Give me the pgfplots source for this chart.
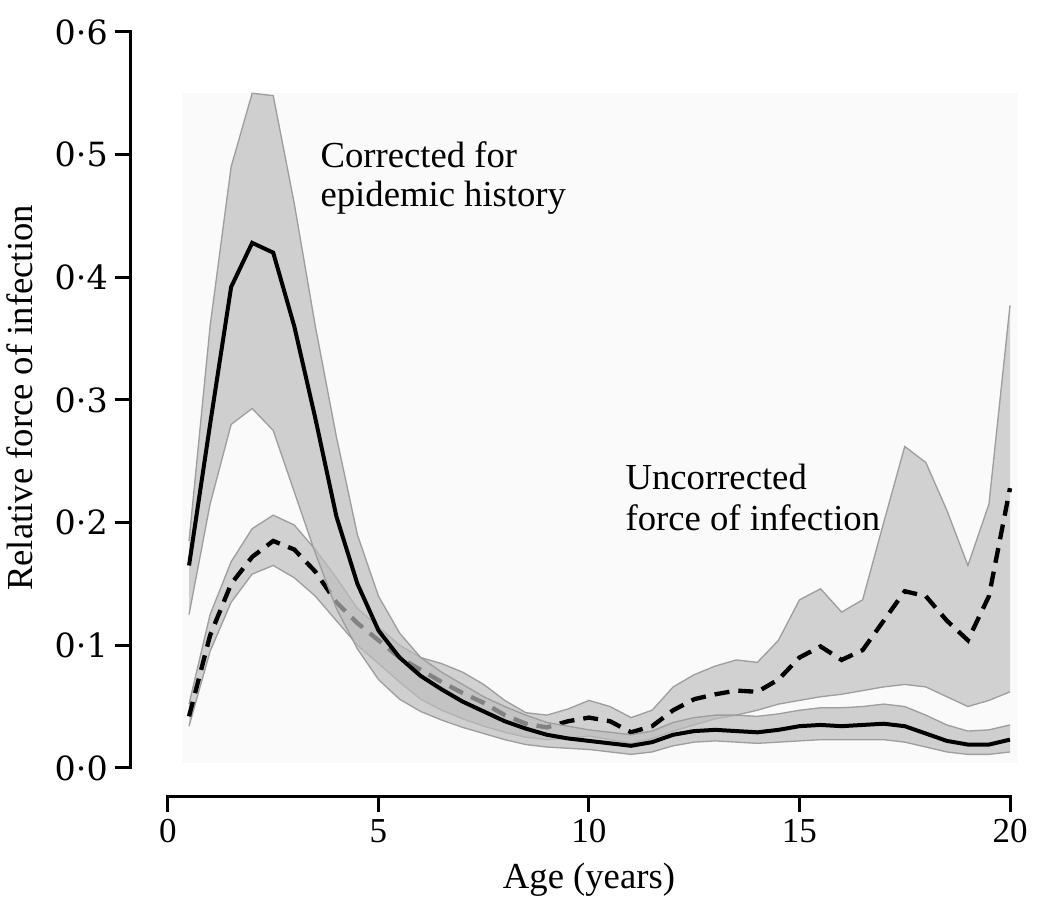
\documentclass[border=0pt]{standalone}
\usepackage{fontspec}
\setmainfont{Liberation Serif}
\newfontfamily\dejaserif{DejaVu Serif}
\usepackage{pgfplots}
\pgfplotsset{compat=1.18}
\usepgfplotslibrary{fillbetween}
\usepackage{pgfplotstable}
\pgfplotsset{/tikz/fill between/on layer=main}

\pgfplotstableread{
age m lo hi
0.5 0.165 0.125 0.185
1.0 0.280 0.215 0.360
1.5 0.392 0.280 0.490
2.0 0.428 0.293 0.550
2.5 0.420 0.275 0.548
3.0 0.360 0.225 0.460
3.5 0.285 0.175 0.360
4.0 0.205 0.130 0.270
4.5 0.150 0.097 0.190
5.0 0.112 0.072 0.140
5.5 0.090 0.056 0.110
6.0 0.075 0.046 0.090
6.5 0.064 0.039 0.078
7.0 0.054 0.033 0.068
7.5 0.046 0.028 0.058
8.0 0.038 0.023 0.050
8.5 0.032 0.019 0.043
9.0 0.027 0.017 0.037
9.5 0.024 0.016 0.034
10.0 0.022 0.015 0.031
10.5 0.020 0.013 0.029
11.0 0.018 0.011 0.027
11.5 0.021 0.013 0.030
12.0 0.027 0.018 0.037
12.5 0.030 0.021 0.041
13.0 0.031 0.022 0.043
13.5 0.030 0.021 0.043
14.0 0.029 0.020 0.042
14.5 0.031 0.021 0.044
15.0 0.034 0.022 0.047
15.5 0.035 0.023 0.049
16.0 0.034 0.023 0.049
16.5 0.035 0.023 0.050
17.0 0.036 0.023 0.052
17.5 0.034 0.021 0.050
18.0 0.028 0.017 0.043
18.5 0.022 0.013 0.035
19.0 0.019 0.011 0.030
19.5 0.019 0.011 0.031
20.0 0.023 0.013 0.035
}\corrected

\pgfplotstableread{
age m lo hi
0.5 0.042 0.034 0.052
1.0 0.108 0.095 0.125
1.5 0.150 0.135 0.168
2.0 0.172 0.158 0.195
2.5 0.185 0.165 0.206
3.0 0.178 0.155 0.198
3.5 0.160 0.140 0.178
4.0 0.135 0.120 0.155
4.5 0.118 0.100 0.130
5.0 0.104 0.085 0.115
5.5 0.090 0.070 0.100
6.0 0.080 0.056 0.090
6.5 0.070 0.047 0.085
7.0 0.061 0.040 0.078
7.5 0.053 0.034 0.068
8.0 0.043 0.029 0.055
8.5 0.036 0.025 0.045
9.0 0.033 0.023 0.043
9.5 0.038 0.024 0.048
10.0 0.041 0.026 0.055
10.5 0.038 0.023 0.050
11.0 0.029 0.020 0.041
11.5 0.034 0.024 0.047
12.0 0.047 0.030 0.066
12.5 0.056 0.035 0.076
13.0 0.060 0.040 0.083
13.5 0.063 0.043 0.088
14.0 0.062 0.047 0.086
14.5 0.072 0.052 0.104
15.0 0.090 0.055 0.137
15.5 0.099 0.058 0.146
16.0 0.088 0.060 0.127
16.5 0.096 0.063 0.137
17.0 0.120 0.066 0.200
17.5 0.144 0.068 0.262
18.0 0.140 0.066 0.249
18.5 0.120 0.058 0.210
19.0 0.104 0.050 0.165
19.5 0.140 0.055 0.215
20.0 0.228 0.062 0.377
}\uncorrected

\begin{document}
\begin{tikzpicture}
\begin{axis}[
  set layers,
  x=12.63pt, y=368pt,
  xmin=-0.9, xmax=20, ymin=-0.0236, ymax=0.6,
  clip=false,
  axis x line*=bottom, axis y line*=left,
  x axis line style={draw=none}, y axis line style={draw=none},
  tick align=outside,
  major tick length=4.5pt,
  every tick/.style={black, line width=0.9pt},
  xtick={0,5,10,15,20},
  xticklabels={0,5,10,15,20},
  ytick={0,0.1,0.2,0.3,0.4,0.5,0.6},
  yticklabels={0·0,0·1,0·2,0·3,0·4,0·5,0·6},
  minor tick num=0,
  xticklabel style={font=\fontsize{10.5}{12}\selectfont, inner sep=2pt},
  yticklabel style={font=\dejaserif\fontsize{10}{12}\selectfont, inner sep=2pt},
]
% faint panel background
\begin{pgfonlayer}{axis background}
\fill[black!2] (axis cs:0.33,0.004) rectangle (axis cs:20.2,0.55);
\end{pgfonlayer}

% uncorrected band
\addplot[name path=uhi, draw=none] table[x=age,y=hi]{\uncorrected};
\addplot[name path=ulo, draw=none] table[x=age,y=lo]{\uncorrected};
\addplot[fill=black!18, draw=none] fill between[of=uhi and ulo];
\addplot[draw=black!38, line width=0.4pt] table[x=age,y=hi]{\uncorrected};
\addplot[draw=black!38, line width=0.4pt] table[x=age,y=lo]{\uncorrected};
% uncorrected mean (dashed)
\addplot[black, line width=1.3pt, dash pattern=on 4.5pt off 2.7pt] table[x=age,y=m]{\uncorrected};

% corrected band
\addplot[name path=chi, draw=none] table[x=age,y=hi]{\corrected};
\addplot[name path=clo, draw=none] table[x=age,y=lo]{\corrected};
\addplot[fill=black!26, fill opacity=0.69, draw=none] fill between[of=chi and clo];
\addplot[draw=black!38, line width=0.4pt] table[x=age,y=hi]{\corrected};
\addplot[draw=black!38, line width=0.4pt] table[x=age,y=lo]{\corrected};
% corrected mean (solid)
\addplot[black, line width=1.2pt] table[x=age,y=m]{\corrected};

% axis lines
\draw[black, line width=0.9pt, line cap=rect] (axis cs:0,-0.0236) -- (axis cs:20,-0.0236);
\draw[black, line width=0.9pt, line cap=rect] (axis cs:-0.9,0) -- (axis cs:-0.9,0.6);

% annotations
\node[anchor=base west, inner sep=0pt, font=\fontsize{11}{13}\selectfont] at (axis cs:3.61,0.4891) {Corrected for};
\node[anchor=base west, inner sep=0pt, font=\fontsize{11}{13}\selectfont] at (axis cs:3.61,0.4573) {epidemic history};
\node[anchor=base west, inner sep=0pt, font=\fontsize{11}{13}\selectfont] at (axis cs:10.855,0.2266) {Uncorrected};
\node[anchor=base west, inner sep=0pt, font=\fontsize{11}{13}\selectfont] at (axis cs:10.855,0.1932) {force of infection};

% axis titles
\node[rotate=90, anchor=center, font=\fontsize{11}{13}\selectfont] at (axis cs:-3.515,0.3016) {Relative force of infection};
\node[anchor=center, font=\fontsize{11}{13}\selectfont] at (axis cs:10,-0.0913) {Age (years)};

\coordinate (bbl) at (axis cs:-3.99,-0.1223);
\coordinate (btr) at (axis cs:20.95,0.626);
\end{axis}
\pgfresetboundingbox
\path[use as bounding box] (bbl) rectangle (btr);
\end{tikzpicture}
\end{document}
